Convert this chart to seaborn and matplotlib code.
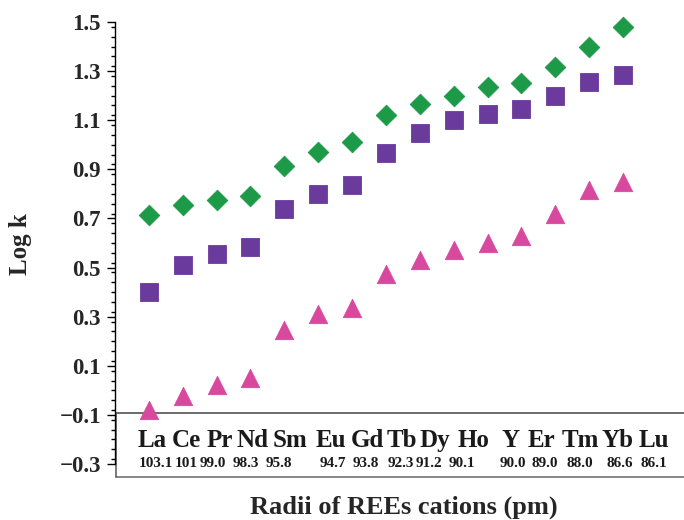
import matplotlib
matplotlib.use("Agg")
import matplotlib.pyplot as plt
from matplotlib.ticker import MultipleLocator
from matplotlib.lines import Line2D
import pandas as pd
import seaborn as sns

# REE cations (x categories) and their ionic radii in pm
elements = ["La", "Ce", "Pr", "Nd", "Sm", "Eu", "Gd", "Tb", "Dy", "Ho",
            "Y", "Er", "Tm", "Yb", "Lu"]
radii = ["103.1", "101", "99.0", "98.3", "95.8", "94.7", "93.8", "92.3",
         "91.2", "90.1", "90.0", "89.0", "88.0", "86.6", "86.1"]

# log k for the three extraction series
logk_diamond = [0.715, 0.755, 0.775, 0.79, 0.915, 0.97, 1.01, 1.12, 1.165,
                1.20, 1.235, 1.25, 1.315, 1.40, 1.48]
logk_square = [0.40, 0.51, 0.555, 0.585, 0.74, 0.80, 0.835, 0.965, 1.05,
               1.10, 1.125, 1.145, 1.20, 1.255, 1.285]
logk_triangle = [-0.08, -0.025, 0.02, 0.05, 0.245, 0.31, 0.335, 0.475, 0.53,
                 0.57, 0.60, 0.63, 0.72, 0.815, 0.85]

y_ticks = [-0.3, -0.1, 0.1, 0.3, 0.5, 0.7, 0.9, 1.1, 1.3, 1.5]

# where the element / radius captions sit along the x axis (column units)
elem_label_x = [0.09, 1.12, 2.10, 3.07, 4.16, 5.38, 6.44, 7.47, 8.45, 9.60,
                10.69, 11.58, 12.73, 13.85, 14.91]
radii_label_x = [0.21, 1.10, 1.90, 2.86, 3.84, 5.43, 6.41, 7.45, 8.26, 9.24,
                 10.75, 11.70, 12.73, 13.91, 14.91]

sns.set_style("white")
plt.rcParams["font.family"] = ["Liberation Serif", "DejaVu Serif"]
plt.rcParams["font.weight"] = "bold"

pos = list(range(len(elements)))
df = pd.concat([
    pd.DataFrame({"pos": pos, "logk": logk_diamond, "series": "diamond"}),
    pd.DataFrame({"pos": pos, "logk": logk_square, "series": "square"}),
    pd.DataFrame({"pos": pos, "logk": logk_triangle, "series": "triangle"}),
])

styles = {
    "diamond": dict(marker="D", color="#1c9a48", s=110),
    "square": dict(marker="s", color="#6a3a9c", s=150),
    "triangle": dict(marker="^", color="#d8489f", s=175),
}

fig = plt.figure(figsize=(6.84, 5.2), dpi=100)
ax = fig.add_axes([115 / 684, 56 / 520, 569 / 684, 442 / 520])

for name, st in styles.items():
    sub = df[df["series"] == name]
    sns.scatterplot(data=sub, x="pos", y="logk", ax=ax, marker=st["marker"],
                    color=st["color"], s=st["s"], edgecolor=st["color"],
                    linewidth=0.6, legend=False, clip_on=False, zorder=3)

ax.set_xlim(-1.0, 15.8)
ax.set_ylim(-0.3, 1.5)

for side in ["top", "right", "bottom"]:
    ax.spines[side].set_visible(False)
ax.spines["left"].set_color("black")
ax.spines["left"].set_linewidth(1.0)

ax.set_xticks([])
ax.set_xlabel("")
ax.set_ylabel("")
ax.set_yticks(y_ticks, [f"{v:.1f}".replace("-", "\u2212") for v in y_ticks])
ax.yaxis.set_minor_locator(MultipleLocator(0.04))
ax.tick_params(axis="y", which="both", left=True)
ax.tick_params(axis="y", which="major", direction="out", length=6, width=1,
               color="black", labelsize=16.5, pad=4)
ax.tick_params(axis="y", which="minor", direction="out", length=3, width=1,
               color="black")
for lab in ax.get_yticklabels():
    lab.set_fontweight("bold")

# caption box under the data: element symbols with their radii
box_top, box_bottom, box_left = -0.092, -0.353, -0.96
for xs, ys, c in [((box_left, 15.8), (box_top, box_top), "#444444"),
                  ((box_left, 15.8), (box_bottom, box_bottom), "#666666"),
                  ((box_left, box_left), (box_top, box_bottom), "#555555")]:
    ax.add_line(Line2D(xs, ys, color=c, lw=1.1, clip_on=False, zorder=2))

for x, el in zip(elem_label_x, elements):
    ax.text(x, -0.230, el, ha="center", va="baseline", fontsize=18,
            fontweight="bold", color="#1a1a1a")
for x, r in zip(radii_label_x, radii):
    ax.text(x, -0.312, r, ha="center", va="baseline", fontsize=11,
            fontweight="bold", color="#1a1a1a")

fig.text(20 / 684, 1 - 244 / 520, "Log k", rotation=90, ha="center",
         va="center", fontsize=18, fontweight="bold")
fig.text(404 / 684, 1 - 514 / 520, "Radii of REEs cations (pm)", ha="center",
         va="baseline", fontsize=19, fontweight="bold")

fig.savefig("out.png", dpi=100)
